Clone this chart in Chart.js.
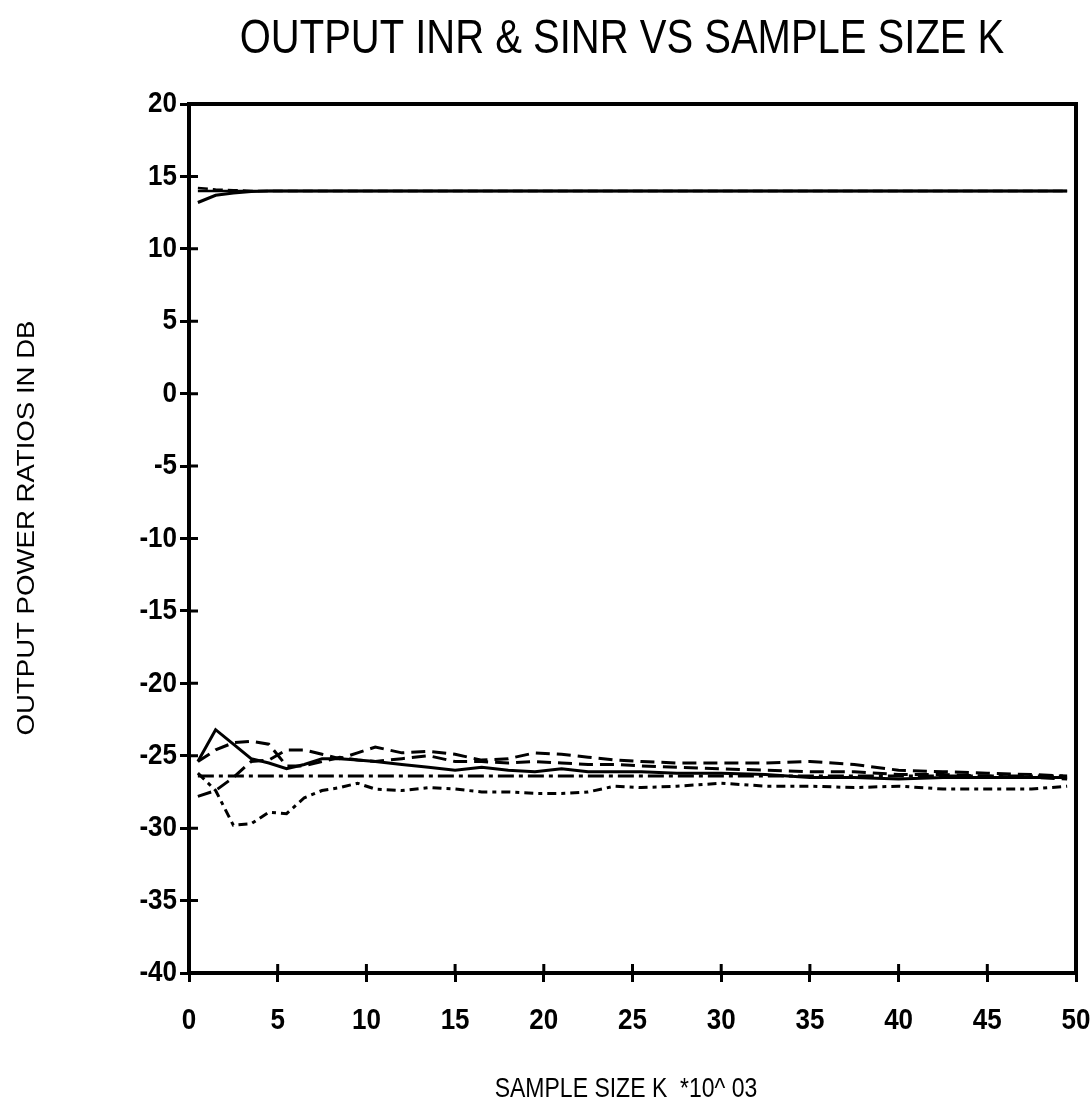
<!DOCTYPE html>
<html>
<head>
<meta charset="utf-8">
<script src="https://cdn.jsdelivr.net/npm/chart.js@4/dist/chart.umd.min.js"></script>
<style>
  html, body { margin: 0; padding: 0; background: #fff; }
  #wrap { width: 1090px; height: 1113px; }
</style>
</head>
<body>
<div id="wrap"><canvas id="myChart" width="1090" height="1113"></canvas></div>
<script>
// sample size K (x 10^3)
const sampleK = [0.5, 1.5, 2.5, 3.5, 4.5, 5.5, 6.5, 7.5, 8.5, 9.5, 10.5, 12, 13.5, 15, 16.5, 18,
  19.5, 21, 22.5, 24, 25.5, 27.5, 30, 32.5, 35, 37.5, 40, 42.5, 45, 47.5, 49.5];

// output INR (dB)
const inrOptimum = sampleK.map(() => 14.0);
const inrEstA = [13.2, 13.7, 13.85, 13.95, 14.0, 14.0, 14.0, 14.0, 14.0, 14.0, 14.0, 14.0, 14.0, 14.0, 14.0, 14.0,
  14.0, 14.0, 14.0, 14.0, 14.0, 14.0, 14.0, 14.0, 14.0, 14.0, 14.0, 14.0, 14.0, 14.0, 14.0];
const inrEstB = [14.2, 14.1, 14.05, 14.0, 14.0, 14.0, 14.0, 14.0, 14.0, 14.0, 14.0, 14.0, 14.0, 14.0, 14.0, 14.0,
  14.0, 14.0, 14.0, 14.0, 14.0, 14.0, 14.0, 14.0, 14.0, 14.0, 14.0, 14.0, 14.0, 14.0, 14.0];

// output SINR (dB)
const sinrOptimum = sampleK.map(() => -26.4);
const sinrA = [-25.4, -23.2, -24.2, -25.2, -25.5, -25.9, -25.6, -25.2, -25.2, -25.3, -25.4, -25.6, -25.8, -26.0, -25.8, -26.0,
  -26.1, -25.9, -26.1, -26.1, -26.1, -26.2, -26.2, -26.3, -26.5, -26.5, -26.6, -26.5, -26.5, -26.5, -26.5];
const sinrB = [-25.4, -24.6, -24.1, -24.0, -24.2, -25.7, -25.7, -25.4, -25.1, -25.3, -25.4, -25.2, -25.0, -25.4, -25.4, -25.5,
  -25.4, -25.5, -25.6, -25.6, -25.7, -25.8, -25.9, -26.0, -26.1, -26.1, -26.3, -26.3, -26.4, -26.5, -26.6];
const sinrC = [-27.8, -27.4, -26.5, -25.4, -25.3, -24.6, -24.6, -24.9, -25.2, -24.8, -24.4, -24.8, -24.7, -24.9, -25.3, -25.2,
  -24.8, -24.9, -25.1, -25.3, -25.4, -25.5, -25.5, -25.5, -25.4, -25.6, -26.0, -26.1, -26.2, -26.3, -26.4];
const sinrD = [-26.2, -27.4, -29.8, -29.7, -28.9, -29.0, -27.9, -27.4, -27.2, -26.9, -27.3, -27.4, -27.2, -27.3, -27.5, -27.5,
  -27.6, -27.6, -27.5, -27.1, -27.2, -27.1, -26.9, -27.1, -27.1, -27.2, -27.1, -27.3, -27.3, -27.3, -27.1];

const chartTitle = "OUTPUT INR & SINR VS SAMPLE SIZE K";
const xTitle = "SAMPLE SIZE K  *10^ 03";
const yTitle = "OUTPUT POWER RATIOS IN DB";

const FONT = "'Liberation Sans', Arial, sans-serif";
const TICK_LEN = 9;

function series(values, dash, width) {
  return {
    data: values.map((v, i) => ({ x: sampleK[i], y: v })),
    borderColor: "#000",
    borderWidth: width,
    borderDash: dash,
    pointRadius: 0,
    tension: 0,
    fill: false,
  };
}

// text in the scan looks stretched, so draw it with a small vertical scale
function stretchedText(ctx, text, x, y, font, sy) {
  ctx.save();
  ctx.translate(x, y);
  ctx.scale(1, sy);
  ctx.font = font;
  ctx.fillText(text, 0, 0);
  ctx.restore();
}

// frame, inward half of the cross ticks, tick labels and titles
const decorations = {
  id: "decorations",
  afterDraw(chart) {
    const { ctx, chartArea: a, scales } = chart;
    ctx.save();
    ctx.strokeStyle = "#000";
    ctx.lineWidth = 4;
    ctx.strokeRect(a.left, a.top, a.right - a.left, a.bottom - a.top);

    ctx.lineWidth = 3;
    ctx.beginPath();
    scales.y.ticks.forEach((t) => {
      const py = scales.y.getPixelForValue(t.value);
      ctx.moveTo(a.left, py);
      ctx.lineTo(a.left + TICK_LEN, py);
    });
    scales.x.ticks.forEach((t) => {
      const px = scales.x.getPixelForValue(t.value);
      ctx.moveTo(px, a.bottom);
      ctx.lineTo(px, a.bottom - TICK_LEN);
    });
    ctx.stroke();

    ctx.fillStyle = "#000";
    ctx.textBaseline = "middle";
    const tickFont = "bold 26px " + FONT;

    ctx.textAlign = "right";
    scales.y.ticks.forEach((t) => {
      stretchedText(ctx, String(t.value), a.left - 12, scales.y.getPixelForValue(t.value), tickFont, 1.15);
    });
    ctx.textAlign = "center";
    scales.x.ticks.forEach((t) => {
      stretchedText(ctx, String(t.value), scales.x.getPixelForValue(t.value), 1021, tickFont, 1.15);
    });

    stretchedText(ctx, chartTitle, 622, 40, "40px " + FONT, 1.22);
    stretchedText(ctx, xTitle, 626, 1090, "23px " + FONT, 1.18);

    ctx.save();
    ctx.translate(28, 528);
    ctx.rotate(-Math.PI / 2);
    ctx.scale(1.2, 1);
    ctx.font = "23px " + FONT;
    ctx.fillText(yTitle, 0, 0);
    ctx.restore();

    ctx.restore();
  },
};

const ctx = document.getElementById("myChart").getContext("2d");
new Chart(ctx, {
  type: "line",
  data: {
    datasets: [
      series(inrOptimum, [], 2.5),
      series(inrEstA, [], 3),
      series(inrEstB, [10, 5], 2.5),
      series(sinrOptimum, [16, 5, 4, 5], 3),
      series(sinrA, [], 3),
      series(sinrB, [14, 7], 3),
      series(sinrC, [14, 7], 3),
      series(sinrD, [9, 5, 4, 5], 3),
    ],
  },
  options: {
    responsive: false,
    animation: false,
    layout: { padding: { left: 0, top: 104, right: 14, bottom: 0 } },
    plugins: {
      legend: { display: false },
      title: { display: false },
      tooltip: { enabled: false },
    },
    scales: {
      x: {
        type: "linear",
        min: 0,
        max: 50,
        afterFit: (scale) => { scale.height = 140; },
        ticks: { stepSize: 5, display: false },
        grid: { drawOnChartArea: false, color: "#000", lineWidth: 3, tickLength: TICK_LEN },
        border: { display: true, color: "#000", width: 4 },
      },
      y: {
        min: -40,
        max: 20,
        afterFit: (scale) => { scale.width = 189; },
        ticks: { stepSize: 5, display: false },
        grid: { drawOnChartArea: false, color: "#000", lineWidth: 3, tickLength: TICK_LEN },
        border: { display: true, color: "#000", width: 4 },
      },
    },
  },
  plugins: [decorations],
});
</script>
</body>
</html>
